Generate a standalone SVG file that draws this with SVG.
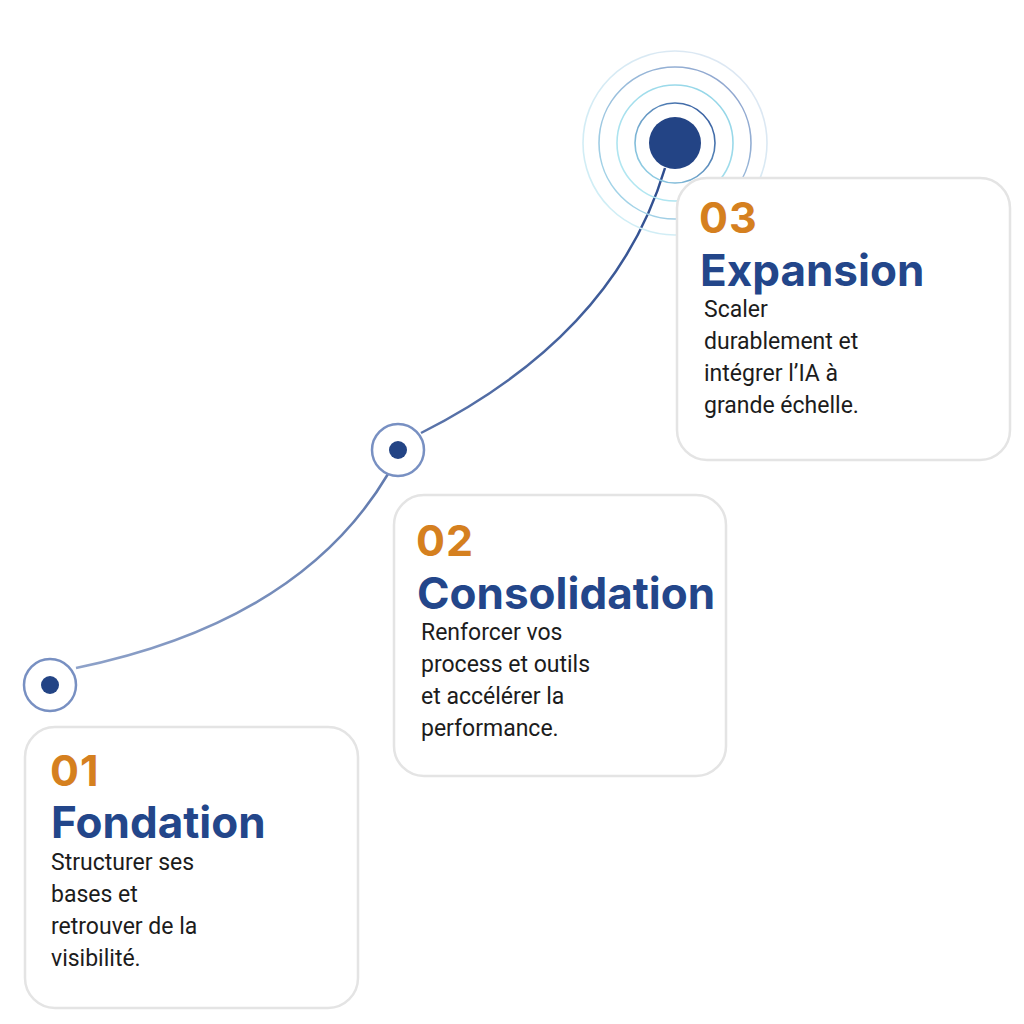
<svg xmlns="http://www.w3.org/2000/svg" width="1024" height="1024" viewBox="0 0 1024 1024">
  <defs>
    <linearGradient id="pathGrad" x1="76" y1="668" x2="665" y2="168" gradientUnits="userSpaceOnUse">
      <stop offset="0" stop-color="#8ea2c9"/>
      <stop offset="1" stop-color="#2e4d8f"/>
    </linearGradient>
    <linearGradient id="ringA" x1="0" y1="1" x2="1" y2="0">
      <stop offset="0" stop-color="#9fe0ef"/>
      <stop offset="1" stop-color="#2b4f97"/>
    </linearGradient>
    <linearGradient id="ringB" x1="0" y1="1" x2="1" y2="0">
      <stop offset="0" stop-color="#b8eaf3"/>
      <stop offset="1" stop-color="#8fd3e6"/>
    </linearGradient>
    <linearGradient id="ringC" x1="0" y1="1" x2="1" y2="0">
      <stop offset="0" stop-color="#a6dcec"/>
      <stop offset="1" stop-color="#8d9fcb"/>
    </linearGradient>
    <linearGradient id="ringD" x1="0" y1="1" x2="1" y2="0">
      <stop offset="0" stop-color="#cdeff6"/>
      <stop offset="1" stop-color="#dfe6f2"/>
    </linearGradient>
  </defs>
  <style>
    .card { fill: #ffffff; stroke: #e4e4e4; stroke-width: 2.5; }
    .num { font-family: Inter, "Liberation Sans", sans-serif; font-weight: 700; font-size: 43px; letter-spacing: 1px; fill: #d5801f; }
    .title { font-family: Inter, "Liberation Sans", sans-serif; font-weight: 700; font-size: 44px; fill: #23468a; }
    .body { font-family: Roboto, "Liberation Sans", sans-serif; font-size: 23px; fill: #1c1c1c; }
    .halo { fill: #ffffff; stroke: #7890c2; stroke-width: 2.5; }
    .dot { fill: #234485; }
    .ring { fill: none; stroke-width: 1.6; }
  </style>
  <rect width="1024" height="1024" fill="#ffffff"/>

  <!-- path linking the three stages -->
  <g id="connectors" fill="none" stroke="url(#pathGrad)" stroke-width="2.5">
    <path d="M76,668 Q300,622 388,474"/>
    <path d="M421,433 Q615,335 665,168"/>
  </g>

  <!-- stage 3 marker with ripple rings -->
  <g id="marker-3">
    <circle class="ring" cx="675" cy="143" r="92" stroke="url(#ringD)" stroke-width="1.2"/>
    <circle class="ring" cx="675" cy="143" r="76" stroke="url(#ringC)"/>
    <circle class="ring" cx="675" cy="143" r="58" stroke="url(#ringB)"/>
    <circle class="ring" cx="675" cy="143" r="40" stroke="url(#ringA)" stroke-width="1.8"/>
    <circle class="dot" cx="675" cy="143" r="26"/>
  </g>

  <g id="marker-2">
    <circle class="halo" cx="398" cy="450" r="26"/>
    <circle class="dot" cx="398" cy="450" r="9"/>
  </g>

  <g id="marker-1">
    <circle class="halo" cx="50" cy="685" r="26"/>
    <circle class="dot" cx="50" cy="685" r="9"/>
  </g>

  <!-- stage cards -->
  <g id="card-3">
    <rect class="card" x="677" y="178" width="333" height="282" rx="30"/>
    <text class="num" x="699" y="233">03</text>
    <text class="title" x="700" y="286">Expansion</text>
    <text class="body" x="704" y="317">Scaler</text>
    <text class="body" x="704" y="349">durablement et</text>
    <text class="body" x="704" y="381">intégrer l’IA à</text>
    <text class="body" x="704" y="413">grande échelle.</text>
  </g>

  <g id="card-2">
    <rect class="card" x="394" y="495" width="332" height="281" rx="30"/>
    <text class="num" x="416" y="556">02</text>
    <text class="title" x="417" y="609">Consolidation</text>
    <text class="body" x="421" y="640">Renforcer vos</text>
    <text class="body" x="421" y="672">process et outils</text>
    <text class="body" x="421" y="704">et accélérer la</text>
    <text class="body" x="421" y="736">performance.</text>
  </g>

  <g id="card-1">
    <rect class="card" x="25" y="727" width="333" height="281" rx="30"/>
    <text class="num" x="50" y="786">01</text>
    <text class="title" x="51" y="838">Fondation</text>
    <text class="body" x="51" y="870">Structurer ses</text>
    <text class="body" x="51" y="902">bases et</text>
    <text class="body" x="51" y="934">retrouver de la</text>
    <text class="body" x="51" y="966">visibilité.</text>
  </g>
</svg>
